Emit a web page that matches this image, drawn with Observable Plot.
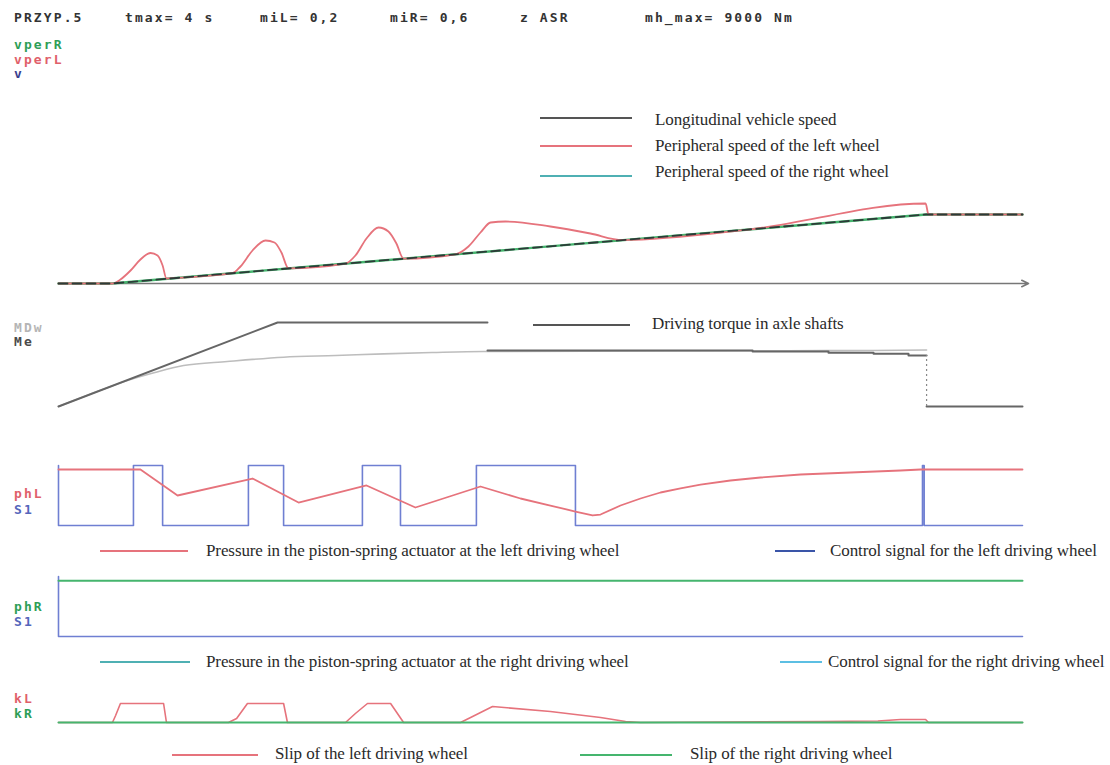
<!DOCTYPE html>
<html><head><meta charset="utf-8">
<script src="https://cdn.jsdelivr.net/npm/d3@7"></script>
<script src="https://cdn.jsdelivr.net/npm/@observablehq/plot@0.6"></script>
<style>
html,body{margin:0;padding:0;background:#fff;}
#root{position:relative;width:1110px;height:765px;overflow:hidden;background:#fff;}
#root svg{position:absolute;left:0;overflow:visible;}
.mono{position:absolute;font-family:"DejaVu Sans Mono",monospace;font-weight:bold;font-size:13px;letter-spacing:2.1px;line-height:14px;white-space:nowrap;}
.leg{position:absolute;font-family:"Liberation Serif","Times New Roman",serif;font-size:17px;color:#2a2a2a;line-height:20px;white-space:nowrap;letter-spacing:-0.1px;}
.sw{position:absolute;height:2px;}
</style></head>
<body><div id="root"></div>
<script>
// ---------- header / labels ----------
const headerTexts = ["PRZYP.5", "tmax= 4 s", "miL= 0,2", "miR= 0,6", "z ASR", "mh_max= 9000 Nm"];
const headerX = [14, 125, 260, 390, 520, 645];

// ---------- panel 1: speeds ----------
const tV = [0, 0.22, 1.0, 2.0, 3.0, 3.6, 4.0];
const vV = [0, 0, 1.6, 3.64, 5.68, 6.9, 6.9];
const tVperR = [0, 0.22, 1.0, 2.0, 3.0, 3.6, 4.0];
const vVperR = [0, 0, 1.6, 3.64, 5.68, 6.9, 6.9];
const tVperL = [0, 0.224, 0.257, 0.299, 0.340, 0.382, 0.411, 0.432, 0.448, 0.485, 0.722, 0.755, 0.805, 0.859, 0.896, 0.925, 0.954, 1.191, 1.232, 1.278, 1.328, 1.369, 1.402, 1.432, 1.647, 1.701, 1.751, 1.793, 1.855, 2.041, 2.207, 2.340, 2.871, 3.598, 3.610, 4.0];
const vVperL = [0, 0, 0.4, 1.3, 2.4, 3.05, 2.8, 1.8, 0.5, 0.55, 1.03, 1.7, 3.3, 4.3, 4.1, 3.1, 1.51, 1.99, 2.8, 4.5, 5.6, 5.2, 4.0, 2.48, 2.92, 3.7, 5.1, 6.1, 6.2, 5.7, 5.0, 4.34, 5.42, 8.0, 6.9, 6.9];

// ---------- panel 2: torques (Nm) ----------
const tMe = [0, 0.909, 1.780, 1.780, 1.780, 2.880, 2.880, 3.195, 3.195, 3.382, 3.382, 3.527, 3.527, 3.602, 3.602, 3.602, 4.0];
const vMe = [0, 9000, 9000, NaN, 6000, 6000, 5890, 5890, 5750, 5750, 5640, 5640, 5460, 5460, NaN, 0, 0];
const tMDw = [0, 0.20, 0.286, 0.40, 0.519, 0.70, 0.934, 1.15, 1.349, 1.55, 1.763, 2.5, 3.38, 3.602];
const vMDw = [0, 1980, 2780, 3640, 4390, 4820, 5280, 5460, 5640, 5780, 5890, 5950, 6000, 6050];
const tDrop = [3.602];
const dropTop = [5460];

// ---------- panel 3: left actuator ----------
const tPhL = [0, 0.340, 0.494, 0.805, 0.996, 1.278, 1.481, 1.751, 1.917, 2.041, 2.145, 2.216, 2.249, 2.332, 2.415, 2.498, 2.581, 2.664, 2.788, 2.913, 3.079, 3.286, 3.494, 3.577, 4.0];
const vPhL = [0.933, 0.933, 0.50, 0.783, 0.383, 0.667, 0.30, 0.65, 0.45, 0.333, 0.233, 0.167, 0.183, 0.333, 0.45, 0.55, 0.617, 0.683, 0.75, 0.80, 0.85, 0.883, 0.917, 0.933, 0.933];
const tS1L = [0, 0, 0.311, 0.432, 0.788, 0.934, 1.261, 1.419, 1.734, 2.145, 3.585, 3.592, 4.0];
const vS1L = [1, 0, 1, 0, 1, 0, 1, 0, 1, 0, 1, 0, 0];

// ---------- panel 4: right actuator ----------
const tPhR = [0, 4.0];
const vPhR = [0.93, 0.93];
const tS1R = [0, 0, 4.0];
const vS1R = [1, 0, 0];

// ---------- panel 5: slips ----------
const tKL = [0, 0.224, 0.237, 0.257, 0.436, 0.448, 0.705, 0.739, 0.784, 0.934, 0.950, 1.191, 1.232, 1.282, 1.378, 1.432, 1.668, 1.710, 1.801, 2.041, 2.249, 2.353, 2.415, 3.162, 3.40, 3.494, 3.598, 3.610, 4.0];
const vKL = [0, 0, 0.07, 0.19, 0.19, 0, 0, 0.04, 0.19, 0.19, 0, 0, 0.09, 0.19, 0.19, 0, 0, 0.05, 0.16, 0.11, 0.05, 0.01, 0, 0.01, 0.015, 0.03, 0.03, 0, 0];
const tKR = [0, 4.0];
const vKR = [0, 0];

// ---------- colours ----------
const C = {red:"#e6737c", green:"#45b56e", dark:"#2c3b38", blue:"#6f7fd2", blueDark:"#3a55a8", teal:"#4fb0b3", lblue:"#5cbfe3", gray:"#5a5a5a", lgray:"#bdbdbd"};

const pts = (ts, vs) => ts.map((t, i) => ({t, v: vs[i]}));
const root = document.getElementById("root");

function panel(top, height, ydom, yBottom, yTop, marks) {
  const svg = Plot.plot({
    width: 1110, height,
    marginLeft: 58, marginRight: 88, marginTop: 0, marginBottom: 0,
    x: {domain: [0, 4], axis: null},
    y: {domain: ydom, range: [yBottom - top, yTop - top], axis: null},
    style: {background: "transparent", overflow: "visible"},
    marks
  });
  svg.style.top = top + "px";
  root.appendChild(svg);
}

// Panel 1
panel(100, 200, [0, 10], 283, 183, [
  Plot.arrow([0], {x1: 0, x2: 4.025, y1: 0, y2: 0, stroke: "#777", strokeWidth: 1.6, headLength: 7, headAngle: 50}),
  Plot.line(pts(tVperR, vVperR), {x: "t", y: "v", stroke: C.green, strokeWidth: 2.4}),
  Plot.line(pts(tVperL, vVperL), {x: "t", y: "v", stroke: C.red, strokeWidth: 1.8, curve: "monotone-x"}),
  Plot.line(pts(tV, vV), {x: "t", y: "v", stroke: C.dark, strokeWidth: 1.8, strokeDasharray: "9,5"})
]);

// Panel 2
panel(300, 120, [0, 9000], 406, 322, [
  Plot.line(pts(tMDw, vMDw), {x: "t", y: "v", stroke: C.lgray, strokeWidth: 1.6, curve: "monotone-x"}),
  Plot.line(pts(tMe, vMe), {x: "t", y: "v", stroke: "#666", strokeWidth: 2}),
  Plot.ruleX(tDrop, {x: d => d, y1: 0, y2: dropTop[0], stroke: "#888", strokeWidth: 1.2, strokeDasharray: "2,3"})
]);

// Panel 3
panel(440, 100, [0, 1], 525, 465, [
  Plot.line(pts(tS1L, vS1L), {x: "t", y: "v", stroke: C.blue, strokeWidth: 1.6, curve: "step-after"}),
  Plot.line(pts(tPhL, vPhL), {x: "t", y: "v", stroke: C.red, strokeWidth: 1.8})
]);

// Panel 4
panel(560, 90, [0, 1], 636, 576, [
  Plot.line(pts(tS1R, vS1R), {x: "t", y: "v", stroke: C.blue, strokeWidth: 1.6, curve: "step-after"}),
  Plot.line(pts(tPhR, vPhR), {x: "t", y: "v", stroke: C.green, strokeWidth: 2})
]);

// Panel 5
panel(690, 40, [0, 0.2], 722, 702, [
  Plot.line(pts(tKL, vKL), {x: "t", y: "v", stroke: C.red, strokeWidth: 1.6}),
  Plot.line(pts(tKR, vKR), {x: "t", y: "v", stroke: C.green, strokeWidth: 2})
]);

// ---------- text ----------
function mono(txt, x, yc, color) {
  const d = document.createElement("div");
  d.className = "mono"; d.textContent = txt;
  d.style.left = x + "px"; d.style.top = (yc - 7) + "px"; d.style.color = color;
  root.appendChild(d);
}
headerTexts.forEach((s, i) => mono(s, headerX[i], 18, "#333"));
const sideLabels = [["vperR", 45, "#2e9e57"], ["vperL", 60, "#e0606a"], ["v", 74, "#3b3f8f"],
  ["MDw", 328, "#b5b5b5"], ["Me", 342, "#4a4a4a"],
  ["phL", 494, "#e0606a"], ["S1", 510, "#5566bb"],
  ["phR", 607, "#2e9e57"], ["S1", 622, "#5566bb"],
  ["kL", 699, "#e0606a"], ["kR", 714, "#2e9e57"]];
sideLabels.forEach(([s, y, c]) => mono(s, 14, y, c));

function legend(x1, x2, y, color, txt, tx, ty) {
  const s = document.createElement("div");
  s.className = "sw"; s.style.left = x1 + "px"; s.style.width = (x2 - x1) + "px";
  s.style.top = (y - 1) + "px"; s.style.background = color;
  root.appendChild(s);
  const t = document.createElement("div");
  t.className = "leg"; t.textContent = txt; t.style.left = tx + "px"; t.style.top = ((ty ?? y) - 11) + "px";
  root.appendChild(t);
}
legend(540, 632, 118, "#555", "Longitudinal vehicle speed", 655, 121);
legend(540, 632, 146, C.red, "Peripheral speed of the left wheel", 655, 147);
legend(540, 632, 176, C.teal, "Peripheral speed of the right wheel", 655, 173);
legend(533, 630, 325, "#555", "Driving torque in axle shafts", 652, 325);
legend(100, 188, 551, C.red, "Pressure in the piston-spring actuator at the left driving wheel", 206, 552);
legend(775, 815, 551, C.blueDark, "Control signal for the left driving wheel", 830, 552);
legend(100, 190, 662, C.teal, "Pressure in the piston-spring actuator at the right driving wheel", 206, 663);
legend(780, 822, 662, C.lblue, "Control signal for the right driving wheel", 828, 663);
legend(172, 258, 755, C.red, "Slip of the left driving wheel", 275, 755);
legend(580, 672, 755, C.green, "Slip of the right driving wheel", 690, 755);
</script></body></html>
